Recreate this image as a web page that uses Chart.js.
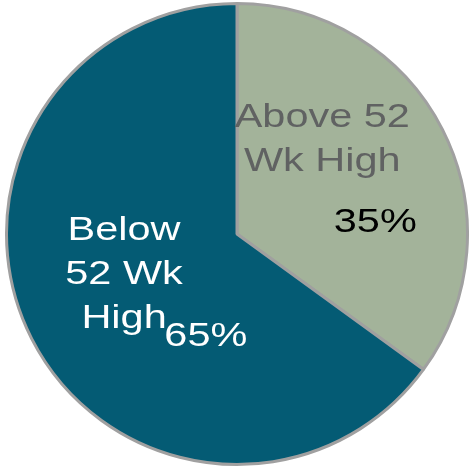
<!DOCTYPE html>
<html>
<head>
  <title>52 Week High Pie</title>
  <script src="https://cdn.jsdelivr.net/npm/chart.js"></script>
  <style>
    body { margin: 0; background: #fff; }
    #wrap { width: 471px; height: 468px; }
  </style>
</head>
<body>
  <div id="wrap"><canvas id="chart"></canvas></div>

  <script>

const categories = [['Above 52', 'Wk High'], ['Below', '52 Wk', 'High']];
const shares = [35, 65];
const sliceColors = ['#a3b39a', '#045b74'];

// label placement relative to the pie centre, in fractions of the radius
const namePos = [[0.37, -0.41], [-0.49, 0.178]];
const pctPos = [[0.6, -0.05], [-0.135, 0.445]];
const nameColors = ['#606262', '#ffffff'];
const pctColors = ['#000000', '#ffffff'];

function wideText(ctx, text, x, y) {
  // the original labels are drawn with a horizontally stretched sans font
  ctx.save();
  ctx.translate(x, y);
  ctx.scale(1.22, 1);
  ctx.fillText(text, 0, 0);
  ctx.restore();
}

const sliceLabels = {
  id: 'sliceLabels',
  afterDatasetsDraw(chart) {
    const ctx = chart.ctx;
    const arcs = chart.getDatasetMeta(0).data;
    ctx.save();
    ctx.font = '34px "Liberation Sans", Arial, sans-serif';
    ctx.textAlign = 'center';
    ctx.textBaseline = 'middle';
    arcs.forEach((arc, i) => {
      const { x, y, outerRadius } = arc.getProps(['x', 'y', 'outerRadius'], true);
      const lines = categories[i];
      const lh = 44;
      const cx = x + namePos[i][0] * outerRadius;
      const cy = y + namePos[i][1] * outerRadius;
      ctx.fillStyle = nameColors[i];
      lines.forEach((t, k) => {
        wideText(ctx, t, cx, cy + (k - (lines.length - 1) / 2) * lh);
      });
      ctx.fillStyle = pctColors[i];
      wideText(ctx, shares[i] + '%', x + pctPos[i][0] * outerRadius, y + pctPos[i][1] * outerRadius);
    });
    ctx.restore();
  }
};

const ctx = document.getElementById('chart').getContext('2d');

new Chart(ctx, {
  type: 'pie',
  data: {
    labels: categories.map(l => l.join(' ')),
    datasets: [{
      data: shares,
      backgroundColor: sliceColors,
      borderColor: '#a0a0a0',
      borderWidth: 3,
      hoverOffset: 0
    }]
  },
  options: {
    responsive: true,
    maintainAspectRatio: false,
    animation: false,
    layout: { padding: { left: 4, top: 2, right: 1, bottom: 2 } },
    plugins: {
      legend: { display: false },
      tooltip: { enabled: false }
    }
  },
  plugins: [sliceLabels]
});
  </script>
</body>
</html>
